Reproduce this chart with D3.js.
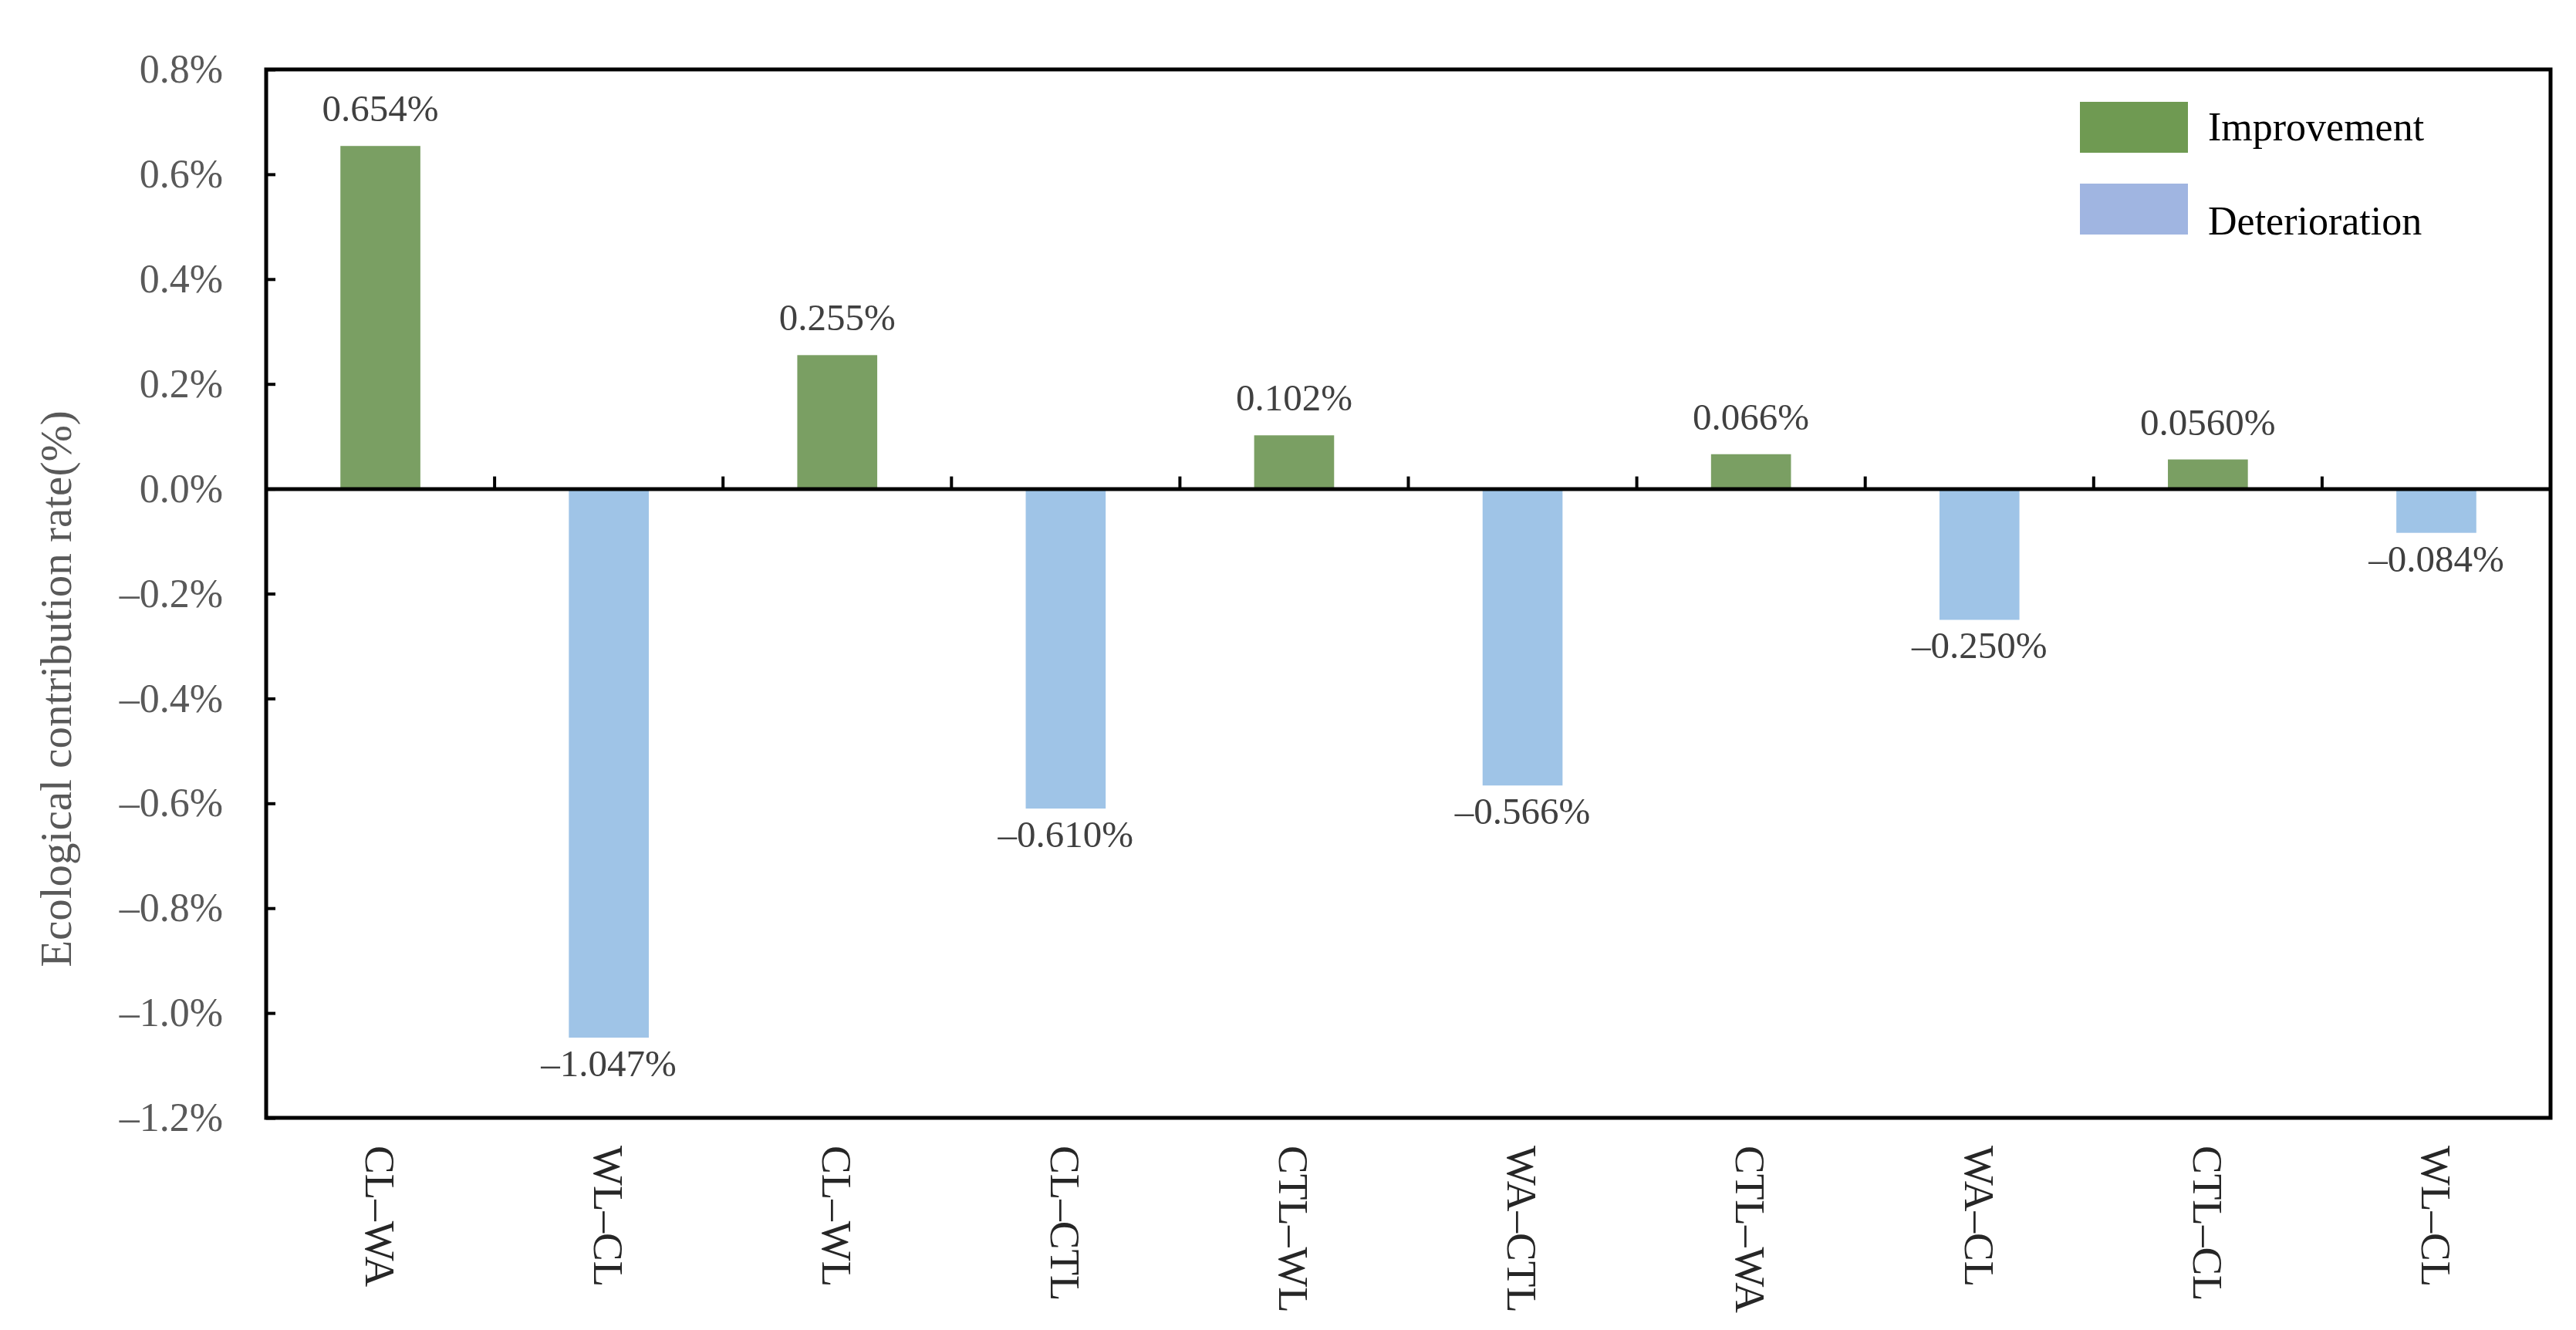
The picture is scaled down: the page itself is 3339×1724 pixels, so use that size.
<!DOCTYPE html>
<html>
<head>
<meta charset="utf-8">
<script src="https://cdn.jsdelivr.net/npm/d3@7"></script>
<style>
  body { margin: 0; background: #fff; }
  text { font-family: "Liberation Serif", "Times New Roman", serif; }
</style>
</head>
<body>
<div class="canvas"></div>
<script>
// chart data
const categories = ["CL–WA", "WL–CL", "CL–WL", "CL–CTL", "CTL–WL", "WA–CTL", "CTL–WA", "WA–CL", "CTL–CL", "WL–CL "];
const values = [0.654, -1.047, 0.255, -0.610, 0.102, -0.566, 0.066, -0.250, 0.0560, -0.084];
const valueLabels = ["0.654%", "–1.047%", "0.255%", "–0.610%", "0.102%", "–0.566%", "0.066%", "–0.250%", "0.0560%", "–0.084%"];
const yTicks = [0.8, 0.6, 0.4, 0.2, 0.0, -0.2, -0.4, -0.6, -0.8, -1.0, -1.2];
const legendItems = ["Improvement", "Deterioration"];

const w = 3339;
const h = 1724;
const margin = { top: 90, right: 33, bottom: 275, left: 345 };
const graphWidth = w - margin.left - margin.right;
const graphHeight = h - margin.top - margin.bottom;

const svg = d3.select(".canvas")
  .append("svg")
  .attr("width", w)
  .attr("height", h);

const graph = svg.append("g")
  .attr("transform", `translate(${margin.left}, ${margin.top})`);

// scales
const y = d3.scaleLinear()
  .domain([-1.2, 0.8])
  .range([graphHeight, 0]);

const x = d3.scaleBand()
  .domain(categories)
  .range([0, graphWidth]);

const barW = x.bandwidth() * 0.35;

// bars
graph.selectAll("rect.bar")
  .data(values)
  .enter()
  .append("rect")
  .attr("class", "bar")
  .attr("x", (d, i) => x(categories[i]) + x.bandwidth() / 2 - barW / 2)
  .attr("width", barW)
  .attr("y", d => y(Math.max(0, d)))
  .attr("height", d => Math.abs(y(d) - y(0)))
  .attr("fill", d => d >= 0 ? "#7a9f63" : "#9fc4e7");

// value labels
graph.selectAll("text.val")
  .data(values)
  .enter()
  .append("text")
  .attr("class", "val")
  .attr("x", (d, i) => x(categories[i]) + x.bandwidth() / 2)
  .attr("y", d => d >= 0 ? y(d) - 32 : y(d) + 50)
  .attr("text-anchor", "middle")
  .attr("font-size", 49)
  .attr("fill", "#404040")
  .text((d, i) => valueLabels[i]);

// y axis (ticks point inward)
const yAxis = d3.axisLeft(y)
  .tickValues(yTicks)
  .tickSizeInner(-12)
  .tickSizeOuter(0)
  .tickPadding(56)
  .tickFormat((d, i) => {
    const s = Math.abs(d).toFixed(1) + "%";
    return d < 0 ? "–" + s : s;
  });

const yAxisGroup = graph.append("g").call(yAxis);
yAxisGroup.select(".domain").remove();
yAxisGroup.selectAll("line").attr("stroke", "#000").attr("stroke-width", 4);
yAxisGroup.selectAll("text")
  .attr("font-size", 52)
  .attr("fill", "#595959");

// zero line with category ticks pointing up
const xAxis = d3.axisTop(x).tickSizeInner(0).tickSizeOuter(0).tickFormat("");
const xAxisGroup = graph.append("g")
  .attr("transform", `translate(0, ${y(0)})`)
  .call(xAxis);
xAxisGroup.select(".domain").attr("stroke", "#000").attr("stroke-width", 5);
xAxisGroup.selectAll(".tick").remove();

graph.selectAll("line.sep")
  .data(categories.slice(1))
  .enter()
  .append("line")
  .attr("class", "sep")
  .attr("x1", d => x(d))
  .attr("x2", d => x(d))
  .attr("y1", y(0))
  .attr("y2", y(0) - 16)
  .attr("stroke", "#000")
  .attr("stroke-width", 4);

// plot box
graph.append("rect")
  .attr("x", 0)
  .attr("y", 0)
  .attr("width", graphWidth)
  .attr("height", graphHeight)
  .attr("fill", "none")
  .attr("stroke", "#000")
  .attr("stroke-width", 5);

// category labels, rotated
graph.selectAll("text.cat")
  .data(categories)
  .enter()
  .append("text")
  .attr("class", "cat")
  .attr("transform", d => `translate(${x(d) + x.bandwidth() / 2}, ${graphHeight + 36}) rotate(90)`)
  .attr("dy", "0.35em")
  .attr("text-anchor", "start")
  .attr("font-size", 55)
  .attr("fill", "#262626")
  .text(d => d.trim());

// y axis title
svg.append("text")
  .attr("transform", `translate(72, 893) rotate(-90)`)
  .attr("dy", "0.35em")
  .attr("text-anchor", "middle")
  .attr("font-size", 57)
  .attr("fill", "#595959")
  .text("Ecological contribution rate(%)");

// legend
const legendColors = ["#6f9a52", "#a0b5e1"];
const legend = svg.append("g");
legend.selectAll("rect")
  .data(legendItems)
  .enter()
  .append("rect")
  .attr("x", 2696)
  .attr("y", (d, i) => 132 + i * 106)
  .attr("width", 140)
  .attr("height", 66)
  .attr("fill", (d, i) => legendColors[i]);
legend.selectAll("text")
  .data(legendItems)
  .enter()
  .append("text")
  .attr("x", 2862)
  .attr("y", (d, i) => 182 + i * 122)
  .attr("font-size", 52)
  .attr("fill", "#000")
  .text(d => d);
</script>
</body>
</html>
